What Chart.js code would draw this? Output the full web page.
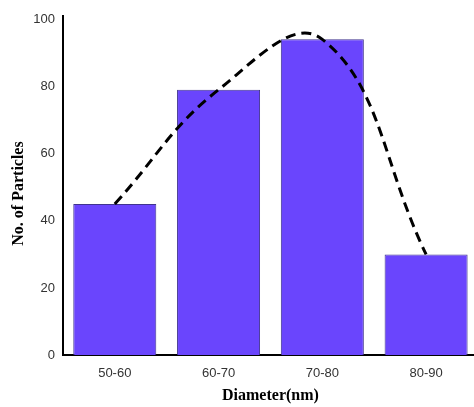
<!DOCTYPE html>
<html>
<head>
<meta charset="utf-8">
<script src="https://cdn.jsdelivr.net/npm/chart.js@4"></script>
<style>
  html, body { margin: 0; padding: 0; background: #fff; overflow: hidden; }
  #wrap { position: relative; width: 480px; height: 407px; }
</style>
</head>
<body>
<div id="wrap"><canvas id="sizeChart"></canvas></div>
<script>
// Distribusi ukuran partikel
const diameterRanges = ['50-60', '60-70', '70-80', '80-90'];
const particleCounts = [45, 79, 94, 30];
const yTicks = [0, 20, 40, 60, 80, 100];

const ctx = document.getElementById('sizeChart').getContext('2d');

new Chart(ctx, {
    type: 'bar',
    data: {
        labels: diameterRanges,
        datasets: [
            {
                type: 'line',
                label: 'Fit',
                data: particleCounts,
                borderColor: '#000',
                borderWidth: 3,
                borderDash: [10, 6],
                tension: 0.42,
                pointRadius: 0,
                fill: false,
                order: 0
            },
            {
                label: 'No. of Particles',
                data: particleCounts,
                backgroundColor: '#6a45fd',
                borderColor: '#40348f',
                borderWidth: 1,
                barPercentage: 0.8,
                categoryPercentage: 1.0,
                order: 1
            }
        ]
    },
    options: {
        responsive: true,
        maintainAspectRatio: false,
        animation: false,
        layout: {
            padding: { left: 9, top: 8, right: 2, bottom: 2 }
        },
        scales: {
            x: {
                grid: { display: false, drawTicks: false },
                border: { display: true, color: '#000', width: 2 },
                ticks: {
                    color: '#333',
                    font: { family: 'Liberation Sans, Arial', size: 13 },
                    padding: 10
                },
                title: {
                    display: true,
                    text: 'Diameter(nm)',
                    color: '#000',
                    font: { family: 'Liberation Serif, Times New Roman', size: 16, weight: 'bold' },
                    padding: { top: -5, bottom: 0 }
                }
            },
            y: {
                min: 0,
                max: 101,
                grid: { display: false, drawTicks: false },
                border: { display: true, color: '#000', width: 2 },
                afterBuildTicks: function(axis) {
                    axis.ticks = yTicks.map(function(v) { return { value: v }; });
                },
                ticks: {
                    color: '#333',
                    font: { family: 'Liberation Sans, Arial', size: 13 },
                    padding: 8
                },
                title: {
                    display: true,
                    // trailing spaces push the label a little lower, as in the source
                    text: 'No. of Particles    ',
                    color: '#000',
                    font: { family: 'Liberation Serif, Times New Roman', size: 16, weight: 'bold' },
                    padding: { top: 0, bottom: -3 }
                }
            }
        },
        plugins: {
            legend: { display: false },
            tooltip: { enabled: false }
        }
    }
});
</script>
</body>
</html>
